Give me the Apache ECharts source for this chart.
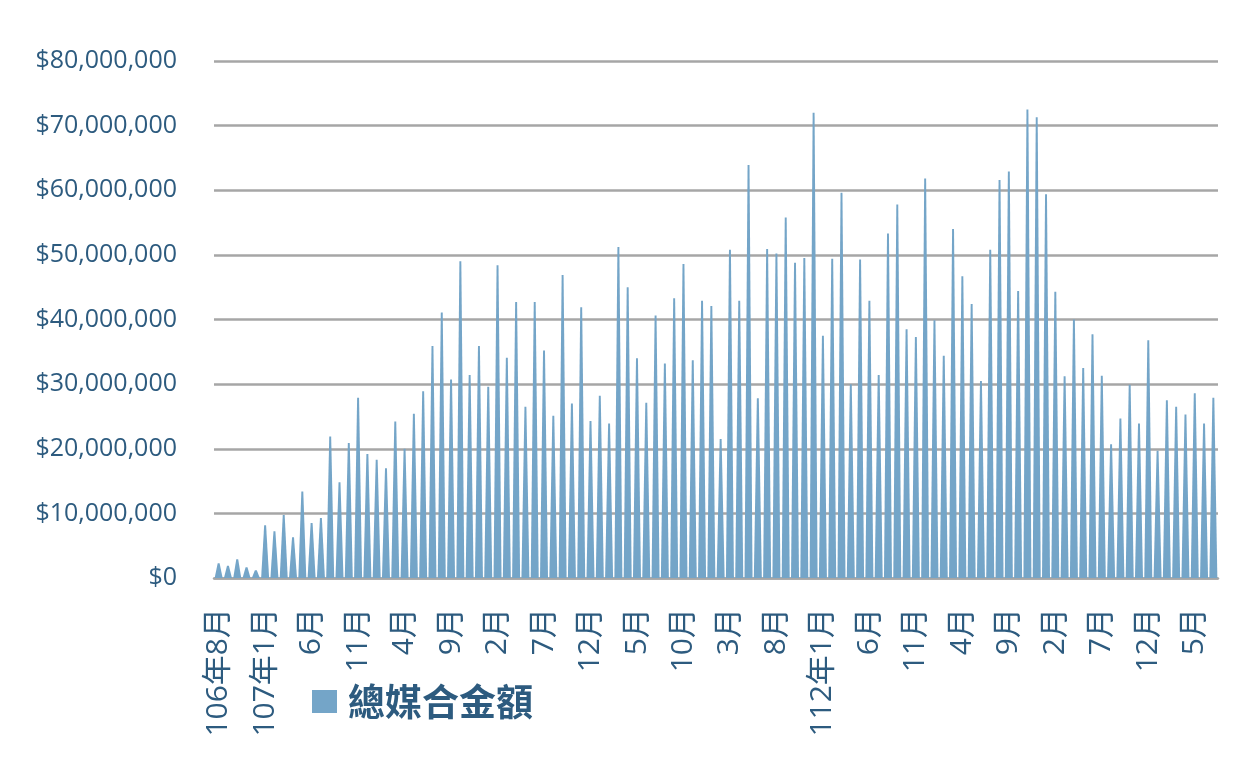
<!DOCTYPE html>
<html>
<head>
<meta charset="utf-8">
<title>總媒合金額</title>
<script src="https://cdn.jsdelivr.net/npm/echarts@6.0.0/dist/echarts.min.js"></script>
<style>
  html, body { margin: 0; padding: 0; background: #fff; }
  #main { width: 1239px; height: 762px; }
</style>
</head>
<body>
<div id="main"></div>
<script>
// 起始年月（民國）
var startYear = 106;
var startMonth = 8;

// 每月總媒合金額（單位：百萬元），106年8月起
var amountMillion = [
  2.3, 1.9, 2.9, 1.65, 1.2,
  8.15, 7.25, 9.75, 6.3, 13.4, 8.5, 9.3, 21.9, 14.8, 20.9, 27.9, 19.2,
  18.3, 17.0, 24.2, 20.0, 25.4, 28.9, 35.9, 41.1, 30.7, 49.0, 31.4, 35.9,
  29.6, 48.4, 34.1, 42.7, 26.5, 42.7, 35.2, 25.1, 46.9, 27.0, 41.9, 24.3,
  28.2, 23.9, 51.2, 45.0, 34.0, 27.1, 40.6, 33.2, 43.3, 48.6, 33.7, 42.9,
  42.1, 21.5, 50.8, 42.9, 63.9, 27.8, 50.9, 50.2, 55.8, 48.8, 49.5, 72.0,
  37.5, 49.4, 59.6, 30.0, 49.3, 42.9, 31.4, 53.3, 57.8, 38.5, 37.3, 61.8,
  39.9, 34.4, 54.0, 46.7, 42.4, 30.5, 50.8, 61.6, 62.9, 44.4, 72.5, 71.3,
  59.4, 44.3, 31.2, 40.0, 32.5, 37.7, 31.3, 20.7, 24.7, 29.9, 23.9, 36.8,
  19.7, 27.5, 26.5, 25.3, 28.6, 23.9, 27.9
];

// 類別標籤：第一個月與每年1月帶年份
var monthLabels = [];
for (var i = 0; i < amountMillion.length; i++) {
  var k = startMonth - 1 + i;
  var m = k % 12 + 1;
  var y = startYear + Math.floor(k / 12);
  monthLabels.push((i === 0 || m === 1) ? (y + '年' + m + '月') : (m + '月'));
}

var amounts = amountMillion.map(function (v) { return Math.round(v * 1000000); });

var labelColor = '#2d5b7f';
var gridColor = '#a6a6a6';
var font = '"Open Sans", "Noto Sans CJK TC", sans-serif';

var myChart = echarts.init(document.getElementById('main'));

var option = {
  animation: false,
  textStyle: { fontFamily: font },
  grid: {
    left: 214,
    right: 21,
    top: 61,
    bottom: 184,
    containLabel: false
  },
  legend: {
    data: ['總媒合金額'],
    left: 312,
    top: 683,
    padding: 0,
    icon: 'rect',
    itemWidth: 25,
    itemHeight: 23,
    textStyle: {
      fontSize: 37,
      fontWeight: 'bold',
      color: labelColor,
      fontFamily: '"Noto Sans CJK TC", sans-serif',
      padding: [0, 0, 0, 6]
    }
  },
  xAxis: {
    type: 'category',
    data: monthLabels,
    boundaryGap: true,
    axisLine: { show: true, lineStyle: { color: gridColor, width: 2.5 } },
    axisTick: { show: false },
    axisLabel: {
      interval: 4,
      rotate: 90,
      margin: 30,
      fontSize: 30,
      color: labelColor,
      fontFamily: font
    },
    splitLine: { show: false }
  },
  yAxis: {
    type: 'value',
    min: 0,
    max: 80000000,
    interval: 10000000,
    axisLine: { show: false },
    axisTick: { show: false },
    axisLabel: {
      margin: 37,
      fontSize: 25,
      color: labelColor,
      fontFamily: font,
      formatter: function (v) { return '$' + v.toLocaleString('en-US'); }
    },
    splitLine: { show: true, lineStyle: { color: gridColor, width: 2.5 } }
  },
  series: [
    {
      name: '總媒合金額',
      type: 'pictorialBar',
      data: amounts,
      barCategoryGap: '0%',
      symbol: 'path://M0,100 L38,0 L62,0 L100,100 Z',
      symbolSize: [8, '100%'],
      symbolPosition: 'start',
      itemStyle: { color: '#74a5c8' }
    }
  ]
};

myChart.setOption(option);
</script>
</body>
</html>
